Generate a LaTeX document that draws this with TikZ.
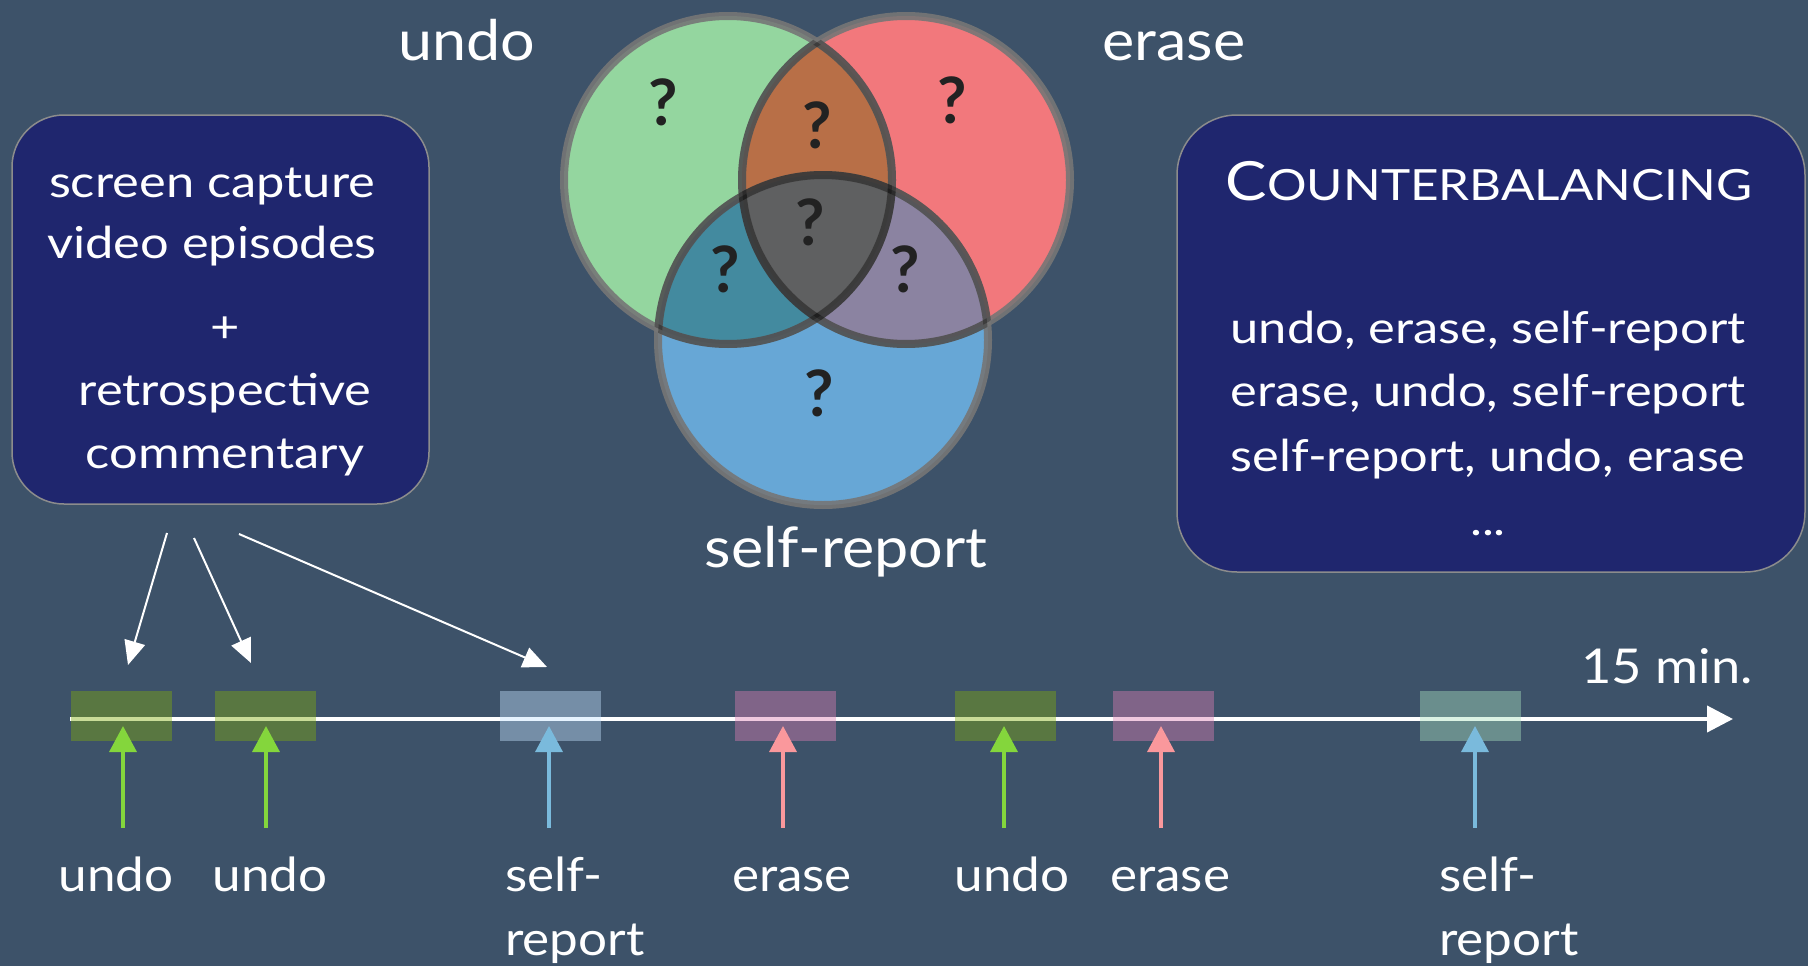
\documentclass[tikz,border=0pt]{standalone}
\usepackage{fontspec}
\setmainfont{Lato}
\newfontfamily\boxfont{Lato}[FakeStretch=1.15]
\newfontfamily\labfont{Lato}[FakeStretch=1.09]
\usetikzlibrary{arrows.meta}
\definecolor{bg}{RGB}{61,82,105}
\definecolor{boxfill}{RGB}{31,38,110}
\definecolor{boxline}{RGB}{140,140,140}
\definecolor{vgreen}{RGB}{148,214,159}
\definecolor{vred}{RGB}{242,120,124}
\definecolor{vblue}{RGB}{103,167,214}
\definecolor{vgr}{RGB}{184,111,71}
\definecolor{vgb}{RGB}{67,138,159}
\definecolor{vrb}{RGB}{139,131,161}
\definecolor{vall}{RGB}{95,96,97}
\definecolor{vline}{RGB}{118,118,118}
\definecolor{qmark}{RGB}{34,34,34}
\definecolor{agreen}{RGB}{132,214,60}
\definecolor{apink}{RGB}{250,152,156}
\definecolor{ablue}{RGB}{122,186,220}
\definecolor{pgreen}{RGB}{128,172,10}
\definecolor{ppink}{RGB}{221,127,180}
\definecolor{pblue}{RGB}{196,227,255}
\definecolor{pteal}{RGB}{170,227,193}
\tikzset{
  roundbox/.style={draw=boxline, line width=1.5pt, fill=boxfill, rounded corners=52pt, inner sep=0pt},
  boxtext/.style={text=white, font=\boxfont\fontsize{44}{52}\selectfont, anchor=base, inner sep=0pt},
  biglabel/.style={text=white, font=\labfont\fontsize{56}{64}\selectfont, anchor=base, inner sep=0pt},
  evlabel/.style={text=white, font=\labfont\fontsize{47}{64}\selectfont, anchor=base, inner sep=0pt},
  evlabeltwo/.style={text=white, font=\labfont\fontsize{47}{64}\selectfont, anchor=north west, align=left, inner sep=0pt},
  qm/.style={text=qmark, font=\bfseries\fontsize{64}{70}\selectfont, inner sep=0pt},
  vborder/.style={draw=vline, draw opacity=0.9, line width=8pt},
  vinner/.style={draw=black, draw opacity=0.28, line width=8pt},
  episode/.style={rectangle, minimum width=101pt, minimum height=50pt, inner sep=0pt, fill opacity=0.42},
  evarrow/.style={line width=3.5pt, -{Triangle[length=26pt,width=27pt]}},
  warrow/.style={draw=white, line width=2pt, -{Triangle[length=24pt,width=21pt]}},
}
\begin{document}
\begin{tikzpicture}[x=1pt,y=-1pt]
\fill[bg] (0,0) rectangle (1808,966);
\useasboundingbox (0,0) rectangle (1808,966);

% left box
\node[roundbox, minimum width=417pt, minimum height=389pt] (src) at (220.5,309.5) {};
\node[boxtext] (s1) at (212,197) {screen capture};
\node[boxtext] (s2) at (212,258) {video episodes};
\node[boxtext] (s3) at (225,342) {+};
\node[boxtext] (s4) at (225,405) {retrospective};
\node[boxtext] (s5) at (225,468) {commentary};

% right box
\node[roundbox, minimum width=628pt, minimum height=457pt, rounded corners=60pt] (cb) at (1491,343.5) {};
\node[text=white, anchor=base, inner sep=0pt] (cbt) at (1489,200) {\boxfont\fontsize{54}{60}\selectfont C\fontsize{43}{60}\selectfont OUNTERBALANCING};
\node[boxtext] (c1) at (1488,343) {undo, erase, self-report};
\node[boxtext] (c2) at (1488,406) {erase, undo, self-report};
\node[boxtext] (c3) at (1488,471) {self-report, undo, erase};
\node[boxtext] (c4) at (1488,535) {...};

% Venn diagram
\fill[vgreen] (728,180) circle[radius=164pt];
\fill[vred] (906,180) circle[radius=164pt];
\fill[vblue] (823,340) circle[radius=165pt];
\begin{scope}
  \clip (728,180) circle[radius=164pt];
  \fill[vgr] (906,180) circle[radius=164pt];
  \fill[vgb] (823,340) circle[radius=165pt];
\end{scope}
\begin{scope}
  \clip (906,180) circle[radius=164pt];
  \fill[vrb] (823,340) circle[radius=165pt];
\end{scope}
\begin{scope}
  \clip (728,180) circle[radius=164pt];
  \clip (906,180) circle[radius=164pt];
  \fill[vall] (823,340) circle[radius=165pt];
\end{scope}
\draw[vborder] (728,180) circle[radius=164pt];
\draw[vborder] (906,180) circle[radius=164pt];
\draw[vborder] (823,340) circle[radius=165pt];
\begin{scope}
  \clip (906,180) circle[radius=164pt];
  \draw[vinner] (728,180) circle[radius=164pt];
  \draw[vinner] (823,340) circle[radius=165pt];
\end{scope}
\begin{scope}
  \clip (728,180) circle[radius=164pt];
  \draw[vinner] (906,180) circle[radius=164pt];
  \draw[vinner] (823,340) circle[radius=165pt];
\end{scope}
\begin{scope}
  \clip (823,340) circle[radius=165pt];
  \draw[vinner] (728,180) circle[radius=164pt];
  \draw[vinner] (906,180) circle[radius=164pt];
\end{scope}

\node[qm] (q1) at (663,102) {?};
\node[qm] (q2) at (817,125) {?};
\node[qm] (q3) at (952,100) {?};
\node[qm] (q4) at (810,222) {?};
\node[qm] (q5) at (725,269) {?};
\node[qm] (q6) at (905,269) {?};
\node[qm] (q7) at (819,393) {?};

\node[biglabel] (lu) at (467,60) {undo};
\node[biglabel] (le) at (1174,60) {erase};
\node[biglabel] (ls) at (846,567) {self-report};

% timeline
\coordinate (t0) at (70,719);
\coordinate (t1) at (1733,719);
\draw[white, line width=4pt, -{Triangle[length=26pt,width=26pt]}] (t0) -- (t1);
\node[text=white, font=\labfont\fontsize{48}{56}\selectfont, anchor=base east, inner sep=0pt] (tm) at (1753,683) {15 min.};

\node[episode, fill=pgreen] (r1) at (121.5,716) {};
\node[episode, fill=pgreen] (r2) at (265,716) {};
\node[episode, fill=pblue]  (r3) at (550,716) {};
\node[episode, fill=ppink]  (r4) at (785,716) {};
\node[episode, fill=pgreen] (r5) at (1005,716) {};
\node[episode, fill=ppink]  (r6) at (1163.5,716) {};
\node[episode, fill=pteal]  (r7) at (1470,716) {};

% event arrows
\coordinate (a1s) at (123,828);  \coordinate (a1e) at (123,726);
\coordinate (a2s) at (266,828);  \coordinate (a2e) at (266,726);
\coordinate (a3s) at (549,828);  \coordinate (a3e) at (549,726);
\coordinate (a4s) at (783,828);  \coordinate (a4e) at (783,726);
\coordinate (a5s) at (1004,828); \coordinate (a5e) at (1004,726);
\coordinate (a6s) at (1161,828); \coordinate (a6e) at (1161,726);
\coordinate (a7s) at (1475,828); \coordinate (a7e) at (1475,726);
\draw[evarrow, agreen] (a1s) -- (a1e);
\draw[evarrow, agreen] (a2s) -- (a2e);
\draw[evarrow, ablue]  (a3s) -- (a3e);
\draw[evarrow, apink]  (a4s) -- (a4e);
\draw[evarrow, agreen] (a5s) -- (a5e);
\draw[evarrow, apink]  (a6s) -- (a6e);
\draw[evarrow, ablue]  (a7s) -- (a7e);

% event labels
\node[evlabel] (e1) at (116,891) {undo};
\node[evlabel] (e2) at (270,891) {undo};
\node[evlabeltwo] (e3) at (505,857) {self-\\report};
\node[evlabel] (e4) at (792,891) {erase};
\node[evlabel] (e5) at (1012,891) {undo};
\node[evlabel] (e6) at (1170,891) {erase};
\node[evlabeltwo] (e7) at (1439,857) {self-\\report};

% arrows from the source box
\coordinate (w1s) at (167,533); \coordinate (w1e) at (128,665);
\coordinate (w2s) at (194,538); \coordinate (w2e) at (251,663);
\coordinate (w3s) at (239,534); \coordinate (w3e) at (547,667);
\draw[warrow] (w1s) -- (w1e);
\draw[warrow] (w2s) -- (w2e);
\draw[warrow] (w3s) -- (w3e);
\end{tikzpicture}
\end{document}
